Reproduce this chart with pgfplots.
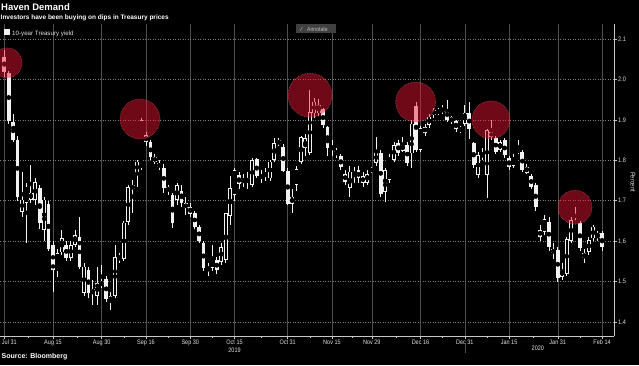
\documentclass[border=0pt]{standalone}
\usepackage{pgfplots}
\pgfplotsset{compat=1.18}
\usepackage{pgfplotstable}
\usepackage{fontspec}
\setmainfont{Liberation Sans}
\newfontfamily\cond[FakeStretch=0.85]{Liberation Sans}
\definecolor{circred}{RGB}{234,21,53}
\definecolor{gridv}{RGB}{78,78,78}
\definecolor{gridh}{RGB}{125,125,125}
\definecolor{axisc}{RGB}{200,200,200}
\definecolor{txt}{RGB}{225,225,225}
\definecolor{candle}{RGB}{242,242,242}

% i = trading day index (0 = Jul 31 2019), o h l c = open high low close (%)
\pgfplotstableread{
i o h l c
0 2.056 2.073 2.005 2.018
1 2.015 2.020 1.890 1.896
2 1.895 1.915 1.845 1.850
3 1.850 1.860 1.700 1.710
4 1.673 1.772 1.660 1.703
5 1.694 1.745 1.595 1.735
6 1.703 1.788 1.695 1.720
7 1.702 1.755 1.690 1.747
8 1.731 1.740 1.630 1.646
9 1.628 1.710 1.600 1.703
10 1.691 1.700 1.575 1.580
11 1.591 1.600 1.475 1.529
12 1.525 1.580 1.512 1.570
13 1.572 1.628 1.565 1.607
14 1.591 1.600 1.550 1.558
15 1.558 1.600 1.550 1.591
16 1.591 1.628 1.585 1.615
17 1.610 1.660 1.530 1.537
18 1.473 1.545 1.465 1.537
19 1.529 1.535 1.460 1.471
20 1.471 1.505 1.443 1.481
21 1.465 1.537 1.442 1.496
22 1.492 1.540 1.485 1.498
23 1.506 1.515 1.450 1.457
24 1.450 1.475 1.430 1.465
25 1.465 1.590 1.460 1.560
26 1.559 1.570 1.545 1.562
27 1.556 1.650 1.550 1.646
28 1.648 1.740 1.640 1.733
29 1.728 1.751 1.670 1.739
30 1.768 1.800 1.735 1.797
31 1.780 1.904 1.775 1.900
32 1.862 1.870 1.835 1.846
33 1.845 1.850 1.800 1.808
34 1.808 1.815 1.790 1.796
35 1.793 1.800 1.775 1.783
36 1.780 1.790 1.720 1.731
37 1.733 1.740 1.715 1.725
38 1.714 1.720 1.632 1.646
39 1.702 1.745 1.690 1.739
40 1.725 1.740 1.685 1.694
41 1.694 1.710 1.665 1.681
42 1.684 1.695 1.660 1.667
43 1.669 1.675 1.630 1.636
44 1.636 1.640 1.595 1.601
45 1.595 1.600 1.525 1.533
46 1.537 1.545 1.515 1.529
47 1.533 1.590 1.525 1.562
48 1.553 1.560 1.520 1.529
49 1.549 1.595 1.540 1.586
50 1.553 1.670 1.545 1.669
51 1.662 1.760 1.640 1.731
52 1.714 1.780 1.700 1.776
53 1.764 1.770 1.730 1.741
54 1.745 1.765 1.735 1.753
55 1.747 1.770 1.730 1.755
56 1.739 1.805 1.735 1.801
57 1.802 1.805 1.755 1.761
58 1.761 1.775 1.745 1.758
59 1.760 1.780 1.750 1.768
60 1.755 1.800 1.750 1.797
61 1.801 1.855 1.795 1.842
62 1.849 1.855 1.835 1.840
63 1.834 1.840 1.770 1.774
64 1.774 1.780 1.690 1.692
65 1.692 1.730 1.670 1.710
66 1.739 1.785 1.725 1.778
67 1.797 1.860 1.790 1.858
68 1.830 1.865 1.810 1.854
69 1.818 1.974 1.812 1.920
70 1.916 1.955 1.905 1.945
71 1.916 1.952 1.910 1.937
72 1.926 1.930 1.880 1.887
73 1.883 1.885 1.810 1.830
74 1.834 1.850 1.810 1.830
75 1.824 1.830 1.805 1.816
76 1.811 1.815 1.775 1.783
77 1.766 1.775 1.740 1.747
78 1.731 1.785 1.708 1.772
79 1.766 1.784 1.743 1.770
80 1.776 1.785 1.745 1.755
81 1.761 1.770 1.735 1.743
82 1.745 1.775 1.740 1.766
83 1.774 1.784 1.768 1.778
84 1.793 1.858 1.785 1.821
85 1.819 1.825 1.710 1.717
86 1.722 1.780 1.698 1.776
87 1.751 1.815 1.745 1.809
88 1.801 1.845 1.795 1.838
89 1.844 1.850 1.810 1.819
90 1.824 1.858 1.820 1.838
91 1.838 1.845 1.785 1.793
92 1.817 1.900 1.780 1.891
93 1.935 1.945 1.820 1.826
94 1.826 1.885 1.820 1.879
95 1.867 1.890 1.860 1.883
96 1.887 1.915 1.880 1.908
97 1.912 1.930 1.905 1.925
98 1.923 1.930 1.912 1.918
99 1.920 1.936 1.915 1.928
100 1.925 1.949 1.895 1.900
101 1.906 1.910 1.890 1.896
102 1.898 1.900 1.870 1.877
103 1.873 1.885 1.868 1.879
104 1.890 1.936 1.885 1.918
105 1.916 1.943 1.852 1.877
106 1.842 1.845 1.780 1.788
107 1.764 1.820 1.755 1.813
108 1.808 1.830 1.800 1.817
109 1.764 1.878 1.706 1.875
110 1.871 1.900 1.850 1.857
111 1.854 1.860 1.815 1.821
112 1.826 1.850 1.820 1.846
113 1.849 1.855 1.805 1.813
114 1.805 1.810 1.775 1.784
115 1.786 1.815 1.780 1.809
116 1.825 1.850 1.815 1.821
117 1.821 1.825 1.770 1.776
118 1.783 1.790 1.765 1.769
119 1.760 1.765 1.730 1.735
120 1.739 1.745 1.675 1.685
121 1.628 1.640 1.600 1.610
122 1.623 1.665 1.615 1.654
123 1.648 1.660 1.575 1.586
124 1.580 1.595 1.555 1.570
125 1.578 1.585 1.500 1.508
126 1.512 1.545 1.505 1.529
127 1.520 1.610 1.515 1.605
128 1.600 1.660 1.595 1.652
129 1.648 1.685 1.640 1.644
130 1.644 1.650 1.575 1.584
131 1.558 1.580 1.545 1.571
132 1.574 1.610 1.565 1.603
133 1.607 1.640 1.600 1.636
134 1.609 1.625 1.600 1.621
135 1.619 1.625 1.575 1.586
}\ohlc

% highlighted highs: x, y, radius (pt)
\pgfplotstableread{
x y r
0.61 2.041 15
30.65 1.902 20
69.05 1.961 22
92.90 1.944 20
109.9 1.900 19
128.9 1.684 17
}\circles

\begin{document}
\begin{tikzpicture}
\useasboundingbox (0,0) rectangle (639pt,365pt);
\fill[black] (0,0) rectangle (639pt,365pt);
\begin{axis}[
  at={(0pt,29pt)}, anchor=south west,
  scale only axis, width=614pt, height=312pt,
  xmin=-0.97, xmax=137.7, ymin=1.3654, ymax=2.1371,
  axis x line*=bottom, axis y line*=right,
  axis line style={axisc, line width=0.6pt, -},
  xtick={0,11,22,32,42,52,64,74,83,94,104,114,125,135},
  xticklabels={\hspace*{10pt}Jul 31,Aug 15,Aug 30,Sep 16,Sep 30,Oct 15\\2019,Oct 31,Nov 15,Nov 29,Dec 16,Dec 31,Jan 15,Jan 31,Feb 14},
  minor xtick={5.5,16.5,27,37,47,58,69,78.5,88.5,99,109,119.5,130},
  extra x ticks={120.5},
  extra x tick labels={\phantom{0}\\2020},
  extra x tick style={grid=none, major tick length=0pt, tick style={draw=none}},
  ytick={1.4,1.5,1.6,1.7,1.8,1.9,2.0,2.1},
  /pgf/number format/fixed, /pgf/number format/fixed zerofill, /pgf/number format/precision=1,
  /pgf/number format/assume math mode=true,
  x tick label style={align=center, font=\cond\fontsize{6.5}{8.5}\selectfont, text=txt, inner sep=1pt},
  y tick label style={font=\cond\fontsize{6.5}{8}\selectfont, text=txt, inner sep=1.5pt},
  grid=major,
  x grid style={gridv, line width=0.5pt},
  y grid style={gridh, line width=0.5pt, dotted},
  tick style={axisc, line width=0.5pt},
  major tick length=2.5pt, minor tick length=2pt,
  tick align=outside,
]
% wicks
\addplot[only marks, mark=none,
  error bars/.cd, y dir=both, y explicit, error mark=none,
  error bar style={draw=candle, line width=0.75pt}]
  table[x=i, y expr={(\thisrow{h}+\thisrow{l})/2}, y error expr={(\thisrow{h}-\thisrow{l})/2}] {\ohlc};
% bodies
\addplot[only marks, mark=none,
  error bars/.cd, y dir=both, y explicit, error mark=none,
  error bar style={draw=candle, line width=3.8pt}]
  table[x=i, y expr={(\thisrow{o}+\thisrow{c})/2}, y error expr={max(abs(\thisrow{c}-\thisrow{o})/2,0.0018)}] {\ohlc};
% hollow (rising) bodies
\addplot[only marks, mark=none,
  restrict expr to domain={\thisrow{c}-\thisrow{o}}{0.0045:1},
  error bars/.cd, y dir=both, y explicit, error mark=none,
  error bar style={draw=black, line width=2.2pt}]
  table[x=i, y expr={(\thisrow{o}+\thisrow{c})/2}, y error expr={(\thisrow{c}-\thisrow{o})/2-0.002}] {\ohlc};
% highlight circles
\addplot[scatter, only marks, mark=*,
  scatter/use mapped color={draw=circred!55!white, fill=circred},
  visualization depends on={\thisrow{r} \as \rad},
  scatter/@pre marker code/.append style={/tikz/mark size=\rad pt},
  mark options={fill opacity=0.47, draw opacity=0.55, densely dotted, line width=0.6pt}]
  table[x=x, y=y] {\circles};
\coordinate (dec31) at (axis cs:104,1.3654);
\end{axis}
\draw[gridv, line width=0.5pt] ([yshift=-8pt]dec31) -- ([yshift=-17pt]dec31);
% titles
\node[anchor=base west, inner sep=0pt, text=white, font=\bfseries\fontsize{9.5}{11}\selectfont] at (1pt,354pt) {Haven Demand};
\node[anchor=base west, inner sep=0pt, text=white, font=\bfseries\fontsize{6.5}{8}\selectfont] at (0.5pt,345pt) {Investors have been buying on dips in Treasury prices};
% legend
\fill[candle] (3.5pt,329.5pt) rectangle (9.5pt,335.5pt);
\node[anchor=base west, inner sep=0pt, text=txt, font=\fontsize{6.2}{7}\selectfont] at (12pt,329.5pt) {10-year Treasury yield};
% annotate button
\fill[black!75!white] (296pt,331.5pt) rectangle (336pt,341pt);
\draw[txt!70!black, line width=0.5pt] (300pt,334pt) -- (302.5pt,338pt);
\node[anchor=base west, inner sep=0pt, text=txt!85!black, font=\cond\fontsize{6}{7}\selectfont] at (307pt,333.5pt) {Annotate};
% axis title
\node[rotate=-90, inner sep=0pt, text=txt, font=\cond\fontsize{6.8}{8}\selectfont] at (633pt,183pt) {Percent};
% source
\node[anchor=base west, inner sep=0pt, text=white, font=\bfseries\fontsize{7}{8}\selectfont] at (1.5pt,7pt) {Source: Bloomberg};
\end{tikzpicture}
\end{document}
